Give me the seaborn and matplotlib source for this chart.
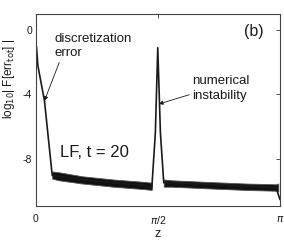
import numpy as np
import pandas as pd
import matplotlib
matplotlib.use("Agg")
import matplotlib.pyplot as plt
import seaborn as sns

# ---- data ----
# main curve (log10 |F[err_tot]|) vs z
z_curve = [0.0, 0.012, 0.03, 0.115, 0.215, 0.30, 0.60, 1.00, 1.40, 1.494,
           1.54, 1.571, 1.605, 1.648, 1.75, 2.20, 2.70, 3.09, 3.1416]
y_curve = [-1.9, -1.0, -2.2, -4.4, -9.05, -9.1, -9.3, -9.5, -9.65, -9.85,
           -6.4, -1.1, -6.4, -9.5, -9.5, -9.6, -9.7, -9.8, -10.55]

# noisy band (oscillation envelope) before the spike
band1_z = [0.215, 0.30, 0.60, 1.00, 1.40, 1.494]
band1_lo = [-9.25, -9.35, -9.55, -9.75, -9.9, -9.95]
band1_hi = [-8.8, -8.85, -9.1, -9.3, -9.45, -9.5]
# noisy band after the spike
band2_z = [1.648, 1.75, 2.20, 2.70, 3.09, 3.12]
band2_lo = [-9.75, -9.75, -9.85, -9.95, -10.0, -10.05]
band2_hi = [-9.3, -9.35, -9.45, -9.55, -9.6, -9.55]

x_ticks = [0, np.pi / 2, np.pi]
x_ticklabels = ["0", r"$\pi$/2", r"$\pi$"]
y_ticks = [-8, -4, 0]
y_ticklabels = ["-8", "-4", "0"]

df = pd.DataFrame({"z": z_curve, "y": y_curve})

sns.set_style("white")
plt.rcParams["font.family"] = ["Liberation Sans", "DejaVu Sans"]
plt.rcParams["mathtext.fontset"] = "dejavusans"

fig = plt.figure(figsize=(2.84, 2.40), dpi=100)
ax = fig.add_axes([35.5 / 284, 1 - 206 / 240, 244.5 / 284, 192 / 240])

ink = "#1a1a1a"
sns.lineplot(data=df, x="z", y="y", ax=ax, color=ink, lw=1.2, sort=False)
ax.fill_between(band1_z, band1_lo, band1_hi, color="#111111", lw=0.6,
                edgecolor="#555555")
ax.fill_between(band2_z, band2_lo, band2_hi, color="#111111", lw=0.6,
                edgecolor="#555555")

ax.set_xlim(0, np.pi)
ax.set_ylim(-10.95, 1.0)
ax.set_xticks(x_ticks)
ax.set_xticklabels(x_ticklabels)
ax.set_yticks(y_ticks)
ax.set_yticklabels(y_ticklabels)
ax.tick_params(direction="in", length=3, width=0.6, labelsize=7.5,
               colors="#333333", top=True, right=True)
ax.tick_params(axis="x", labelcolor=ink, pad=6)
ax.tick_params(axis="y", labelcolor=ink, pad=2.5)
for s in ax.spines.values():
    s.set_color("#444444")
    s.set_linewidth(0.8)

ax.set_xlabel("z", fontsize=9, color=ink, labelpad=1)
ax.set_ylabel("")
fig.text(9 / 284, 1 - 79 / 240, r"log$_{10}$| F[err$_{\rm tot}$] |",
         rotation=90, ha="center", va="center", fontsize=8.5, color=ink)

ax.text(0.894, 0.911, "(b)", transform=ax.transAxes, fontsize=11.5,
        ha="center", va="center", color=ink)
ax.text(0.102, 0.281, "LF, t = 20", transform=ax.transAxes, fontsize=12,
        ha="left", va="center", color=ink)

ax.annotate("discretization\nerror", xy=(0.115, -4.4), xycoords="data",
            xytext=(0.077, 0.833), textcoords="axes fraction",
            fontsize=9.5, ha="left", va="center", color=ink, linespacing=1.25,
            arrowprops=dict(arrowstyle="-|>", color=ink, lw=0.6,
                            mutation_scale=6, shrinkA=0, shrinkB=0,
                            relpos=(0.08, 0.0)))
ax.annotate("numerical\ninstability", xy=(1.585, -4.6), xycoords="data",
            xytext=(0.642, 0.612), textcoords="axes fraction",
            fontsize=9.5, ha="left", va="center", color=ink, linespacing=1.25,
            arrowprops=dict(arrowstyle="-|>", color=ink, lw=0.6,
                            mutation_scale=6, shrinkA=0, shrinkB=0,
                            relpos=(0.0, 0.3)))

fig.savefig("out.png", dpi=100)
